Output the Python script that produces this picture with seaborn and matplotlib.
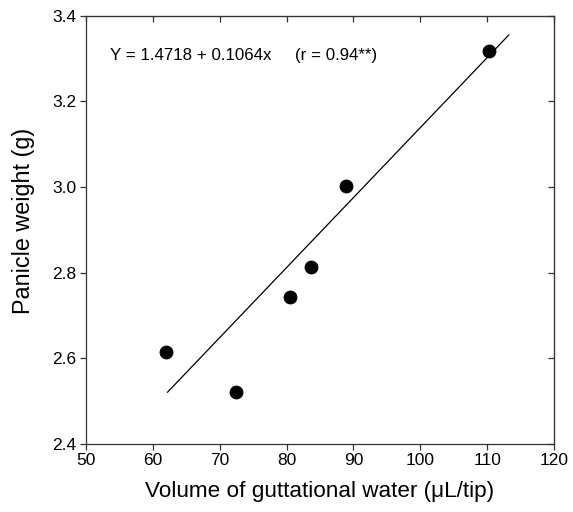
import matplotlib
matplotlib.use("Agg")
import matplotlib.pyplot as plt
import seaborn as sns
import pandas as pd

# Data
water_volume = [62.0, 72.5, 80.5, 83.6, 88.9, 110.3]
panicle_weight = [2.615, 2.52, 2.742, 2.813, 3.003, 3.318]
fit_x = [62.2, 113.2]
fit_y = [2.52, 3.355]
x_ticks = [50, 60, 70, 80, 90, 100, 110, 120]
y_ticks = [2.4, 2.6, 2.8, 3.0, 3.2, 3.4]

df = pd.DataFrame({"water": water_volume, "weight": panicle_weight})
line_df = pd.DataFrame({"x": fit_x, "y": fit_y})

sns.set_style("ticks")
plt.rcParams["font.family"] = ["Liberation Sans", "DejaVu Sans"]

fig = plt.figure(figsize=(5.73, 5.12), dpi=100)
ax = fig.add_axes([0.1496, 0.1334, 0.8178, 0.8359])

sns.lineplot(data=line_df, x="x", y="y", ax=ax, color="black", linewidth=0.9)
sns.scatterplot(data=df, x="water", y="weight", ax=ax, color="black",
                s=85, edgecolor="black", zorder=3)

ax.set_xlim(50, 120)
ax.set_ylim(2.4, 3.4)
ax.set_xticks(x_ticks)
ax.set_yticks(y_ticks)
ax.set_yticklabels([f"{v:.1f}" for v in y_ticks])
ax.tick_params(direction="out", length=4, width=0.9, labelsize=12.5, color="#333333",
               labelcolor="black", pad=3)

for s in ax.spines.values():
    s.set_visible(True)
    s.set_linewidth(0.9)
    s.set_color("#333333")

top = ax.secondary_xaxis("top")
top.set_xticks(x_ticks)
top.tick_params(direction="in", length=4, width=0.9, labeltop=False, color="#333333")
right = ax.secondary_yaxis("right")
right.set_yticks(y_ticks)
right.tick_params(direction="in", length=4, width=0.9, labelright=False, color="#333333")

ax.set_xlabel("Volume of guttational water (\u03bcL/tip)", fontsize=16.2, labelpad=9, color="black")
ax.set_ylabel("Panicle weight (g)", fontsize=16.8, color="black")
ax.yaxis.set_label_coords(-0.108, 0.52)

ax.text(0.052, 0.908, "Y = 1.4718 + 0.1064x", transform=ax.transAxes, fontsize=12.2,
        va="center", color="black")
ax.text(0.447, 0.908, "(r = 0.94**)", transform=ax.transAxes, fontsize=12.2,
        va="center", color="black")

fig.savefig("out.png", dpi=100)
